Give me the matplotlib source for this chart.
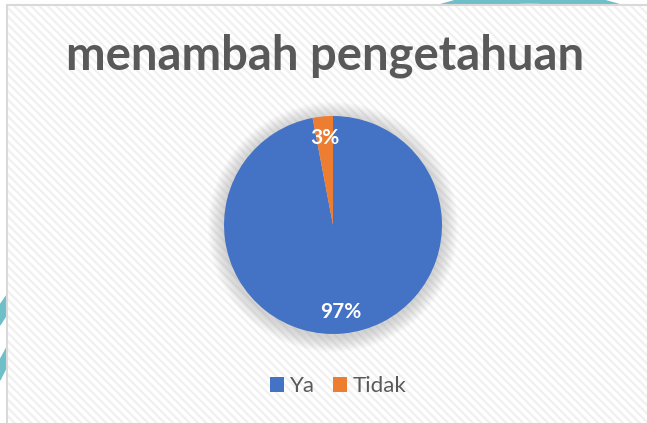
import matplotlib
matplotlib.use("Agg")
import matplotlib.pyplot as plt
from matplotlib.patches import Rectangle, Circle, Polygon, Wedge

title = "menambah pengetahuan"
categories = ["Ya", "Tidak"]
values = [97, 3]
colors = ["#4472C4", "#ED7D31"]

W, H = 647, 423
DPI = 100
fig = plt.figure(figsize=(W / DPI, H / DPI), dpi=DPI)
fig.patch.set_facecolor("white")

def fx(px):
    return px / W

def fy(py):
    return 1 - py / H

# background decorations (teal)
deco = fig.add_axes([0, 0, 1, 1], zorder=0)
deco.set_xlim(0, W)
deco.set_ylim(H, 0)
deco.axis("off")
deco.add_patch(Wedge((530, 291), 300, 245, 295, width=12, color="#6fbfc8"))
deco.add_patch(Polygon([[0, 305], [12, 288], [12, 306], [0, 325]], color="#6fbfc8"))
deco.add_patch(Polygon([[0, 360], [12, 338], [12, 356], [0, 380]], color="#6fbfc8"))

# chart frame with diagonal stripes
plt.rcParams["hatch.color"] = "#f0f0f0"
plt.rcParams["hatch.linewidth"] = 1.6
frame = fig.add_axes([0, 0, 1, 1], zorder=1)
frame.set_xlim(0, W)
frame.set_ylim(H, 0)
frame.axis("off")
frame.add_patch(Rectangle((7, 5), W, H, facecolor="#ffffff", edgecolor="#d9d9d9",
                          linewidth=1.5))
frame.add_patch(Rectangle((8, 6), W, H, facecolor="none", edgecolor="#f0f0f0",
                          linewidth=0, hatch="\\\\\\\\"))
# soft shadow around pie
cx, cy, r = 333, 225, 109
for i in range(16):
    frame.add_patch(Circle((cx, cy + 2), r + 16 - i, facecolor="#a0a0a0",
                           edgecolor="none", alpha=0.03))

frame.text(fx(325), fy(56), title, transform=fig.transFigure, ha="center", va="center",
           fontsize=34, fontweight="bold", color="#595959", family=["Lato", "DejaVu Sans"])

# pie
half = 150
ax = fig.add_axes([fx(cx - half), fy(cy + half), 2 * half / W, 2 * half / H], zorder=2)
wedges, texts, autotexts = ax.pie(values, colors=colors, startangle=90, counterclock=False,
                                  autopct="%d%%", pctdistance=0.8, radius=1,
                                  wedgeprops=dict(linewidth=0))
for t in autotexts:
    t.set_color("white")
    t.set_fontweight("bold")
    t.set_fontsize(15)
    t.set_family(["Lato", "DejaVu Sans"])
ax.set_xlim(-half / r, half / r)
ax.set_ylim(-half / r, half / r)
ax.axis("off")

leg = fig.legend(wedges, categories, loc="center", bbox_to_anchor=(fx(338), fy(386)),
                 ncol=2, frameon=False, handlelength=0.65, handleheight=0.65,
                 handletextpad=0.25, columnspacing=0.8,
                 prop={"family": ["Lato", "DejaVu Sans"], "size": 16})
for t in leg.get_texts():
    t.set_color("#595959")

fig.savefig("out.png", dpi=DPI)
